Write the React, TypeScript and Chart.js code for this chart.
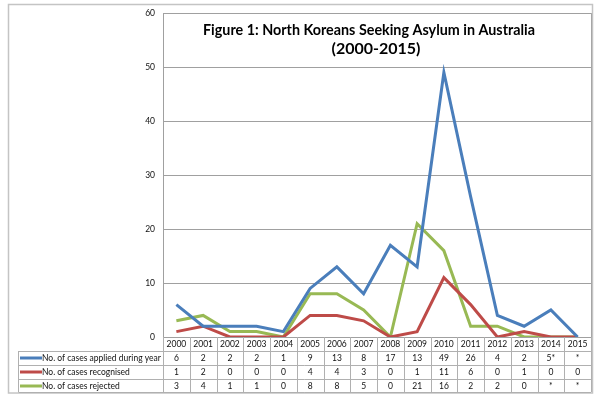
import { useEffect, useRef } from "react";
import { Chart, registerables } from "chart.js";

Chart.register(...registerables);

const years = ["2000", "2001", "2002", "2003", "2004", "2005", "2006", "2007", "2008", "2009", "2010", "2011", "2012", "2013", "2014", "2015"];
const seriesNames = ["No. of cases applied during year", "No. of cases recognised", "No. of cases rejected"];
const appliedValues = [6, 2, 2, 2, 1, 9, 13, 8, 17, 13, 49, 26, 4, 2, 5, 0];
const recognisedValues = [1, 2, 0, 0, 0, 4, 4, 3, 0, 1, 11, 6, 0, 1, 0, 0];
const rejectedValues = [3, 4, 1, 1, 0, 8, 8, 5, 0, 21, 16, 2, 2, 0, 0, 0];
const appliedLabels = ["6", "2", "2", "2", "1", "9", "13", "8", "17", "13", "49", "26", "4", "2", "5*", "*"];
const recognisedLabels = ["1", "2", "0", "0", "0", "4", "4", "3", "0", "1", "11", "6", "0", "1", "0", "0"];
const rejectedLabels = ["3", "4", "1", "1", "0", "8", "8", "5", "0", "21", "16", "2", "2", "0", "*", "*"];
const titleLines = ["Figure 1: North Koreans Seeking Asylum in Australia", "(2000-2015)"];
const colors = ["#4a7ebb", "#be4b48", "#98b954"];

const FONT = "Lato, 'Open Sans', sans-serif";

export default function App() {
  const ref = useRef<HTMLCanvasElement>(null);

  useEffect(() => {
    document.body.style.margin = "0";
    const canvas = ref.current!;
    const rowLabels = [appliedLabels, recognisedLabels, rejectedLabels];

    const drawFitted = (ctx: any, text: string, cx: number, y: number, targetW: number) => {
      const w = ctx.measureText(text).width;
      const k = Math.min(1, targetW / w);
      ctx.save();
      ctx.translate(cx, y);
      ctx.scale(k, 1);
      ctx.fillText(text, 0, 0);
      ctx.restore();
    };

    const decor = {
      id: "decor",
      beforeDraw(chart: any) {
        const { ctx, width, height } = chart;
        ctx.save();
        ctx.fillStyle = "#ffffff";
        ctx.fillRect(0, 0, width, height);
        ctx.strokeStyle = "#c4c4c4";
        ctx.lineWidth = 1.5;
        ctx.strokeRect(8.5, 4.5, 584, 388.5);
        ctx.restore();
      },
      afterDraw(chart: any) {
        const { ctx, chartArea } = chart;
        const xs = chart.scales.x;
        const left = chartArea.left;
        const right = chartArea.right;
        const colW = (right - left) / years.length;
        const catTop = chartArea.bottom;
        const rowTops = [catTop, catTop + 14, catTop + 28, catTop + 42];
        const bottom = catTop + 55;
        const tableLeft = 18.5;
        ctx.save();
        ctx.strokeStyle = "#a6a6a6";
        ctx.lineWidth = 1;
        ctx.beginPath();
        ctx.moveTo(Math.round(right) + 0.5, chartArea.top);
        ctx.lineTo(Math.round(right) + 0.5, catTop);
        ctx.stroke();

        ctx.strokeStyle = "#b0b0b0";
        ctx.beginPath();
        for (let i = 0; i <= years.length; i++) {
          const x = Math.round(left + i * colW) + 0.5;
          ctx.moveTo(x, catTop);
          ctx.lineTo(x, bottom);
        }
        ctx.moveTo(tableLeft, rowTops[1]);
        ctx.lineTo(tableLeft, bottom);
        for (let r = 1; r < rowTops.length; r++) {
          const y = Math.round(rowTops[r]) + 0.5;
          ctx.moveTo(tableLeft, y);
          ctx.lineTo(right, y);
        }
        ctx.moveTo(tableLeft, Math.round(bottom) + 0.5);
        ctx.lineTo(right, Math.round(bottom) + 0.5);
        ctx.stroke();

        ctx.fillStyle = "#111111";
        ctx.font = `8.5px ${FONT}`;
        ctx.textAlign = "center";
        ctx.textBaseline = "middle";
        years.forEach((y, i) => {
          ctx.fillText(y, xs.getPixelForValue(i), rowTops[0] + 7.5);
        });
        rowLabels.forEach((labels, r) => {
          const cy = rowTops[r + 1] + 7;
          labels.forEach((t, i) => {
            ctx.fillText(t, xs.getPixelForValue(i), cy);
          });
        });
        ctx.textAlign = "left";
        seriesNames.forEach((name, r) => {
          const cy = rowTops[r + 1] + 7;
          ctx.strokeStyle = colors[r];
          ctx.lineWidth = 3;
          ctx.beginPath();
          ctx.moveTo(20, cy);
          ctx.lineTo(42, cy);
          ctx.stroke();
          ctx.fillText(name, 42, cy);
        });

        ctx.fillStyle = "#000000";
        ctx.font = `bold 16px ${FONT}`;
        ctx.textAlign = "center";
        ctx.textBaseline = "alphabetic";
        drawFitted(ctx, titleLines[0], 369, 35, 332);
        drawFitted(ctx, titleLines[1], 376, 54, 90);
        ctx.restore();
      },
    };

    const chart = new Chart(canvas, {
      type: "line",
      data: {
        labels: years,
        datasets: [
          { label: seriesNames[0], data: appliedValues, borderColor: colors[0], backgroundColor: colors[0], borderWidth: 3, pointRadius: 0, tension: 0 },
          { label: seriesNames[1], data: recognisedValues, borderColor: colors[1], backgroundColor: colors[1], borderWidth: 3, pointRadius: 0, tension: 0 },
          { label: seriesNames[2], data: rejectedValues, borderColor: colors[2], backgroundColor: colors[2], borderWidth: 3, pointRadius: 0, tension: 0 },
        ],
      },
      options: {
        responsive: false,
        animation: false,
        layout: { padding: { top: 10, bottom: 59, right: 13, left: 123 } },
        plugins: { legend: { display: false }, title: { display: false }, tooltip: { enabled: false } },
        scales: {
          x: { display: false, offset: true },
          y: {
            min: 0,
            max: 60,
            afterFit: (s: any) => { s.width = 40; },
            ticks: { stepSize: 10, padding: 8, color: "#111111", font: { family: FONT, size: 8.5 } },
            grid: { color: "#a0a0a0", lineWidth: 1, drawTicks: false },
            border: { color: "#a0a0a0", width: 1 },
          },
        },
      },
      plugins: [decor],
    });
    return () => chart.destroy();
  }, []);

  return <canvas ref={ref} width={604} height={396} style={{ display: "block", width: 604, height: 396 }} />;
}
